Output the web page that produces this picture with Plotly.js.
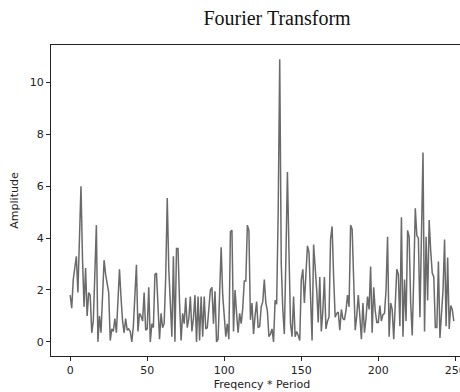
<!DOCTYPE html>
<html>
<head>
<meta charset="utf-8">
<script src="https://cdn.plot.ly/plotly-3.0.1.min.js"></script>
<style>
html,body{margin:0;padding:0;overflow:hidden;background:#fff;}
#chart{width:480px;height:392px;}
</style>
</head>
<body>
<div id="chart"></div>
<script>
const amplitude = [
 1.8,1.3,2.4,2.9,3.3,1.9,3.8,6.0,3.2,1.35,
 2.85,1.0,1.9,1.8,0.35,0.8,2.6,4.5,0.0,1.0,
 0.35,1.6,3.15,2.6,2.3,1.9,0.05,0.5,0.4,0.9,
 0.35,1.6,2.8,1.7,0.8,0.35,0.9,0.45,0.5,0.4,
 0.0,0.6,1.8,2.97,0.4,1.1,1.0,0.8,1.9,0.45,
 0.5,2.1,0.0,0.7,0.55,2.6,2.65,1.2,0.1,1.1,
 0.55,0.7,2.5,5.55,2.8,1.5,0.2,3.3,0.0,3.6,
 3.6,1.5,0.05,1.1,0.7,1.7,0.55,0.9,1.75,0.4,
 0.9,1.8,0.0,1.75,0.05,1.75,0.2,1.75,0.5,0.55,
 1.2,2.0,2.1,0.7,1.95,0.0,0.1,1.6,3.65,1.8,
 0.85,0.2,0.7,0.1,4.25,4.3,0.4,2.0,1.1,0.35,
 1.1,0.7,1.3,2.35,2.35,4.5,4.3,0.85,1.5,0.3,
 1.0,1.55,0.55,0.6,1.35,1.55,2.4,1.5,1.2,0.2,
 0.3,0.5,0.0,1.6,1.45,5.0,10.9,3.0,1.25,0.3,
 3.2,6.55,3.5,0.7,0.2,1.75,0.2,0.4,0.25,0.05,
 2.4,2.8,1.5,2.5,3.7,3.45,1.5,0.05,3.75,3.0,
 2.0,0.75,2.5,0.4,1.2,2.5,0.5,0.8,0.95,3.95,
 4.45,2.5,0.95,1.1,1.15,0.45,1.25,0.9,0.85,1.2,
 1.8,1.35,4.5,4.35,2.0,0.45,1.0,1.8,1.0,0.1,
 1.5,0.35,0.9,1.75,1.25,2.9,0.35,2.1,1.2,0.75,
 0.75,1.4,0.8,1.05,1.1,2.0,4.05,0.2,1.5,1.25,
 0.1,1.4,2.8,2.6,0.6,4.8,0.2,2.4,0.8,4.3,
 4.05,1.5,0.25,2.5,5.15,4.1,4.0,0.95,4.0,7.3,
 0.4,4.05,1.6,4.7,3.5,2.65,2.5,0.55,0.55,3.1,
 0.15,1.35,2.0,3.95,0.6,3.25,0.5,1.4,1.25,0.8
];
const freqPeriod = amplitude.map((_, i) => i);
const xTicks = [0, 50, 100, 150, 200, 250];
const yTicks = [0, 2, 4, 6, 8, 10];

const trace = {
  x: freqPeriod,
  y: amplitude,
  type: 'scatter',
  mode: 'lines',
  line: {color: '#6a6a6a', width: 1.5},
  hoverinfo: 'skip'
};

const axisCommon = {
  showgrid: false,
  zeroline: false,
  showline: true,
  linecolor: '#222',
  linewidth: 1,
  mirror: true,
  ticks: 'outside',
  ticklen: 4,
  tickwidth: 1,
  tickcolor: '#222',
  tickfont: {family: 'DejaVu Sans', size: 11, color: '#222'}
};

const layout = {
  width: 480,
  height: 392,
  margin: {l: 51, r: 7, t: 45, b: 36},
  paper_bgcolor: '#fff',
  plot_bgcolor: '#fff',
  showlegend: false,
  title: {
    text: 'Fourier Transform',
    font: {family: 'Liberation Serif', size: 20, color: '#111'},
    xref: 'container', yref: 'container',
    x: 277 / 480, y: 1 - 18 / 392,
    xanchor: 'center', yanchor: 'middle'
  },
  xaxis: Object.assign({}, axisCommon, {
    range: [-12.45, 261.45],
    tickvals: xTicks,
    title: {text: 'Freqency * Period', font: {family: 'DejaVu Sans', size: 11, color: '#222'}, standoff: 4}
  }),
  yaxis: Object.assign({}, axisCommon, {
    range: [-0.545, 11.445],
    tickvals: yTicks,
    title: {text: 'Amplitude', font: {family: 'DejaVu Sans', size: 11, color: '#222'}, standoff: 8}
  })
};

Plotly.newPlot('chart', [trace], layout, {displayModeBar: false, staticPlot: true});
</script>
</body>
</html>
